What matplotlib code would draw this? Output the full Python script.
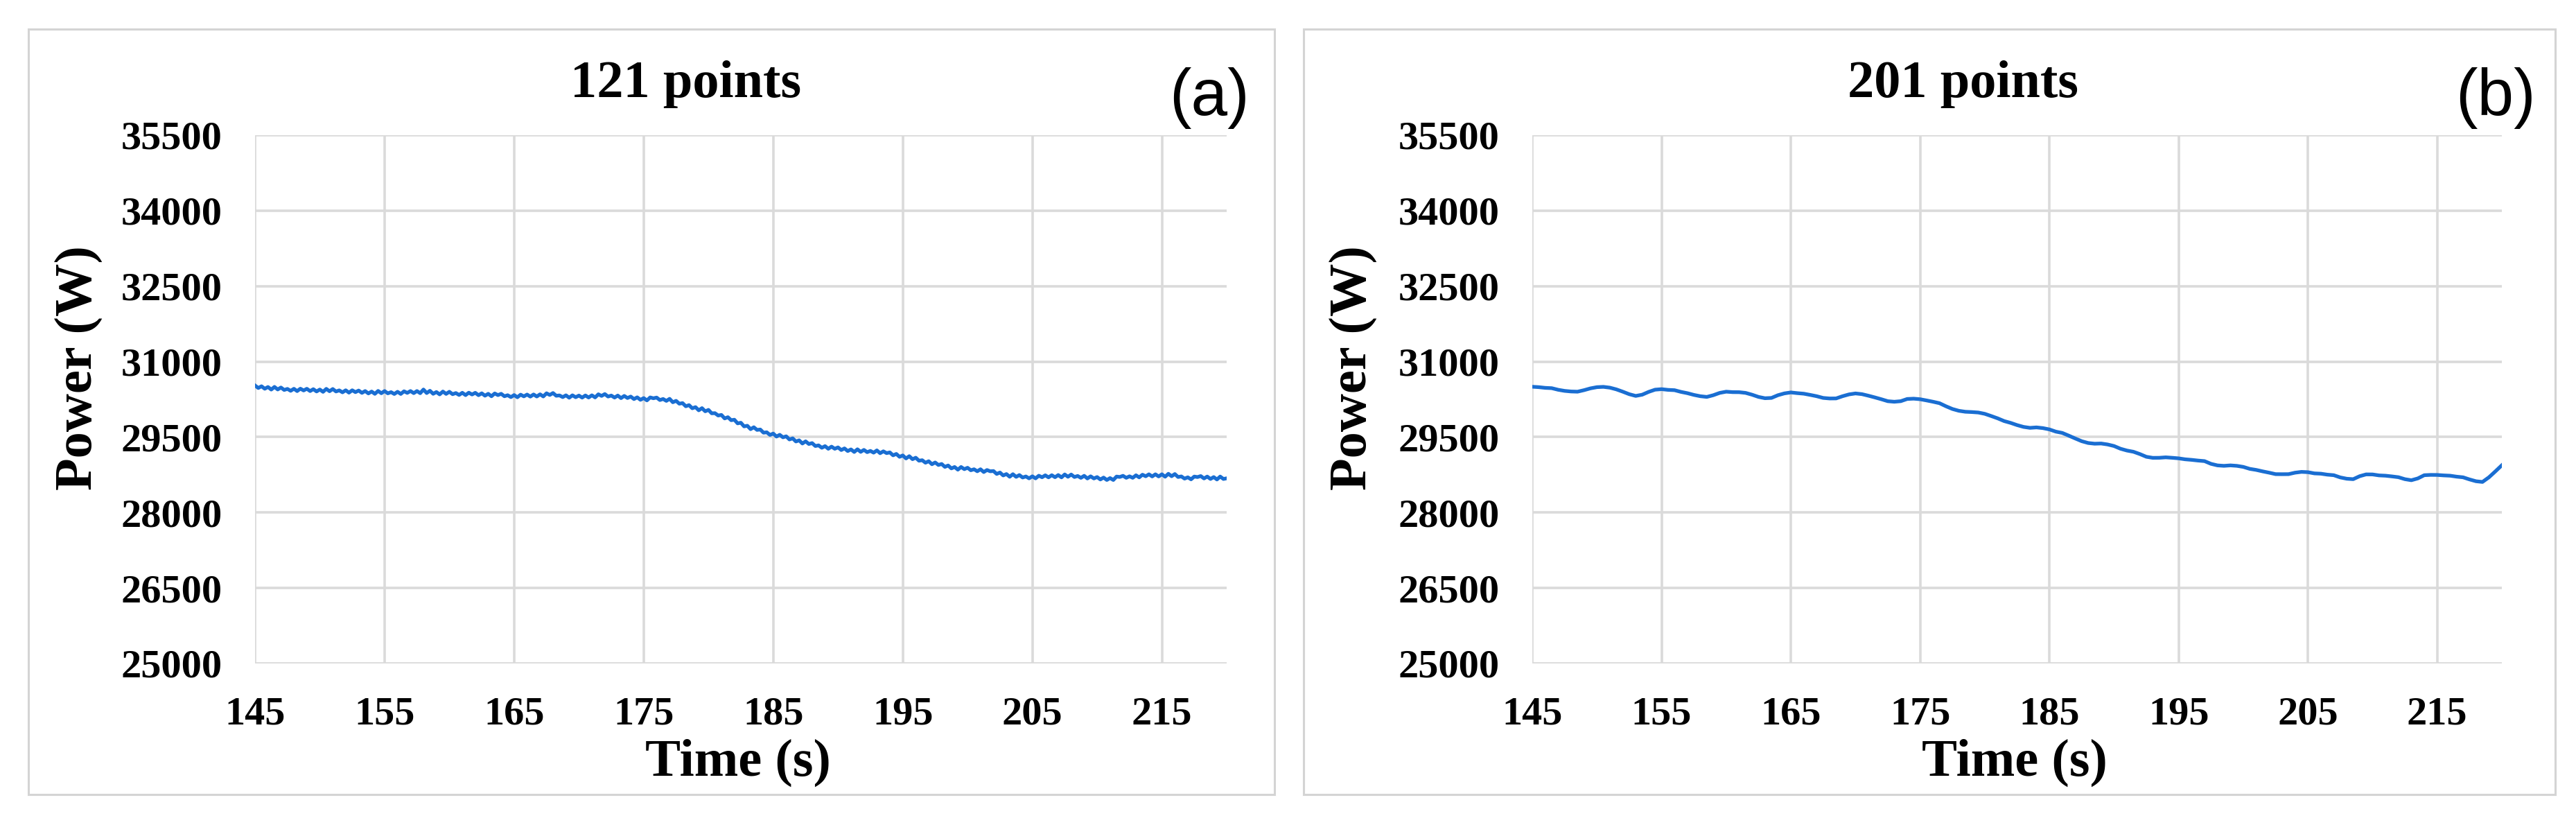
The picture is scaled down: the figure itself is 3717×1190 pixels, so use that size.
import numpy as np
import matplotlib
matplotlib.use("Agg")
import matplotlib.pyplot as plt
from matplotlib.patches import Rectangle

plt.rcParams['font.family'] = ['Liberation Serif', 'DejaVu Serif']

# ---------------- data ----------------
titles = ["121 points", "201 points"]
panel_tags = ["(a)", "(b)"]
x_label = "Time (s)"
y_label = "Power (W)"
x_ticks = [145, 155, 165, 175, 185, 195, 205, 215]
y_ticks = [25000, 26500, 28000, 29500, 31000, 32500, 34000, 35500]

# panel (a): sampled every 0.25 s from 145 s to 220 s
t_a_start, t_a_step = 145.0, 0.25
power_a = [
    30525, 30475, 30510, 30460, 30495, 30444, 30497, 30446, 30485, 30436, 30457, 30419,
    30460, 30414, 30462, 30426, 30460, 30414, 30452, 30406, 30445, 30399, 30458, 30411,
    30455, 30406, 30428, 30389, 30430, 30383, 30430, 30393, 30425, 30378, 30415, 30367,
    30405, 30359, 30417, 30371, 30415, 30369, 30393, 30356, 30400, 30357, 30410, 30378,
    30415, 30373, 30415, 30372, 30445, 30375, 30420, 30360, 30395, 30348, 30405, 30358,
    30400, 30352, 30375, 30337, 30380, 30334, 30382, 30346, 30380, 30332, 30370, 30322,
    30360, 30311, 30367, 30334, 30360, 30311, 30332, 30294, 30335, 30291, 30343, 30309,
    30345, 30304, 30347, 30306, 30350, 30307, 30370, 30337, 30375, 30321, 30328, 30294,
    30330, 30282, 30330, 30292, 30325, 30284, 30327, 30286, 30330, 30288, 30350, 30318,
    30355, 30305, 30325, 30285, 30325, 30274, 30318, 30276, 30305, 30255, 30290, 30240,
    30275, 30229, 30288, 30271, 30285, 30236, 30257, 30219, 30260, 30192, 30220, 30163,
    30175, 30112, 30135, 30072, 30095, 30032, 30075, 30012, 30040, 29972, 29975, 29928,
    29940, 29870, 29895, 29835, 29845, 29772, 29785, 29712, 29725, 29657, 29695, 29642,
    29650, 29587, 29595, 29542, 29570, 29510, 29545, 29495, 29515, 29452, 29475, 29412,
    29435, 29372, 29415, 29362, 29380, 29322, 29335, 29287, 29320, 29267, 29310, 29267,
    29295, 29242, 29275, 29222, 29255, 29204, 29257, 29206, 29245, 29200, 29225, 29190,
    29235, 29179, 29217, 29181, 29195, 29137, 29165, 29107, 29135, 29075, 29120, 29060,
    29090, 29030, 29040, 28990, 29020, 28960, 28995, 28945, 28965, 28907, 28935, 28877,
    28905, 28852, 28905, 28862, 28890, 28840, 28860, 28820, 28860, 28805, 28845, 28820,
    28825, 28767, 28795, 28737, 28765, 28711, 28762, 28709, 28745, 28696, 28717, 28679,
    28720, 28679, 28732, 28701, 28740, 28699, 28742, 28702, 28745, 28699, 28757, 28711,
    28755, 28706, 28727, 28689, 28730, 28677, 28720, 28677, 28705, 28657, 28695, 28647,
    28685, 28647, 28715, 28707, 28730, 28690, 28720, 28690, 28740, 28699, 28752, 28721,
    28760, 28717, 28760, 28717, 28760, 28712, 28770, 28722, 28765, 28706, 28718, 28674,
    28700, 28660, 28715, 28705, 28725, 28677, 28715, 28667, 28705, 28657, 28715, 28667,
    28680,
]

# panel (b): sampled every 0.5 s from 145 s to 220 s
t_b_start, t_b_step = 145.0, 0.5
power_b = [
    30500, 30492, 30478, 30472, 30440, 30418, 30406, 30402, 30432, 30468,
    30492, 30498, 30482, 30448, 30402, 30352, 30318, 30342, 30398, 30442,
    30452, 30438, 30432, 30398, 30372, 30338, 30312, 30298, 30332, 30378,
    30402, 30393, 30392, 30378, 30342, 30298, 30272, 30278, 30332, 30368,
    30387, 30373, 30362, 30338, 30312, 30278, 30267, 30268, 30312, 30348,
    30367, 30353, 30322, 30288, 30252, 30213, 30202, 30213, 30257, 30263,
    30252, 30228, 30202, 30173, 30112, 30058, 30022, 30003, 29997, 29988,
    29962, 29918, 29872, 29818, 29782, 29738, 29702, 29683, 29692, 29678,
    29652, 29608, 29582, 29528, 29472, 29418, 29382, 29368, 29372, 29353,
    29322, 29268, 29232, 29208, 29162, 29108, 29087, 29088, 29097, 29088,
    29077, 29058, 29047, 29033, 29022, 28968, 28937, 28928, 28937, 28928,
    28907, 28868, 28847, 28818, 28792, 28763, 28762, 28763, 28792, 28808,
    28802, 28778, 28772, 28753, 28742, 28698, 28672, 28663, 28722, 28758,
    28757, 28738, 28732, 28718, 28702, 28663, 28642, 28678, 28742, 28748,
    28747, 28738, 28732, 28713, 28700, 28658, 28622, 28608, 28700, 28818,
    28940,
]

# ---------------- figure ----------------
W, H, DPI = 3717, 1190, 100
fig = plt.figure(figsize=(W / DPI, H / DPI), dpi=DPI)
fig.patch.set_facecolor("white")

def fx(px):
    return px / W

def fy(py):
    return 1 - py / H

grid_color = "#dadada"
line_color = "#1a6ed2"

panels = [
    dict(ax_px=(368, 1770), border=(41, 1839), title_x=990, tag_x=1745, ylab_x=113,
         t0=t_a_start, dt=t_a_step, vals=power_a),
    dict(ax_px=(2211, 3610), border=(1881, 3687), title_x=2833, tag_x=3601, ylab_x=1952,
         t0=t_b_start, dt=t_b_step, vals=power_b),
]
ax_top, ax_bot = 195, 957

for i, p in enumerate(panels):
    # panel border
    fig.patches.append(Rectangle((fx(p["border"][0]), fy(1146)),
                                 fx(p["border"][1] - p["border"][0]), (1146 - 42) / H,
                                 transform=fig.transFigure, fill=False,
                                 edgecolor="#d4d4d4", linewidth=2.2, zorder=0))
    l, r = p["ax_px"]
    ax = fig.add_axes([fx(l), fy(ax_bot), fx(r - l), (ax_bot - ax_top) / H])
    vals = np.array(p["vals"], dtype=float)
    t = p["t0"] + p["dt"] * np.arange(len(vals))
    ax.plot(t, vals, color=line_color, linewidth=3.8, solid_joinstyle="round", zorder=3)

    ax.set_xlim(145, 220)
    ax.set_ylim(25000, 35500)
    ax.set_xticks(x_ticks)
    ax.set_yticks(y_ticks)
    ax.set_xticklabels([str(v) for v in x_ticks], fontsize=42, fontweight="bold")
    ax.set_yticklabels([str(v) for v in y_ticks], fontsize=42, fontweight="bold")
    ax.tick_params(axis="both", length=0)
    ax.tick_params(axis="x", pad=34)
    ax.tick_params(axis="y", pad=34)
    ax.grid(True, color=grid_color, linewidth=2.6, zorder=0)
    ax.set_axisbelow(True)
    for s in ax.spines.values():
        s.set_visible(False)

    # texts
    fig.text(fx(p["title_x"]), fy(121), titles[i], ha="center", va="center",
             fontsize=55, fontweight="bold")
    fig.text(fx(p["tag_x"]), fy(142), panel_tags[i], ha="center", va="center",
             fontsize=68, family=["Liberation Sans", "DejaVu Sans"])
    fig.text(fx((l + r) / 2 - 4), fy(1066), x_label, ha="center", va="top",
             fontsize=55, fontweight="bold")
    fig.text(fx(p["ylab_x"]), fy(531), y_label, ha="center", va="center",
             rotation=90, fontsize=55, fontweight="bold")

fig.savefig("out.png", dpi=DPI, facecolor="white")
